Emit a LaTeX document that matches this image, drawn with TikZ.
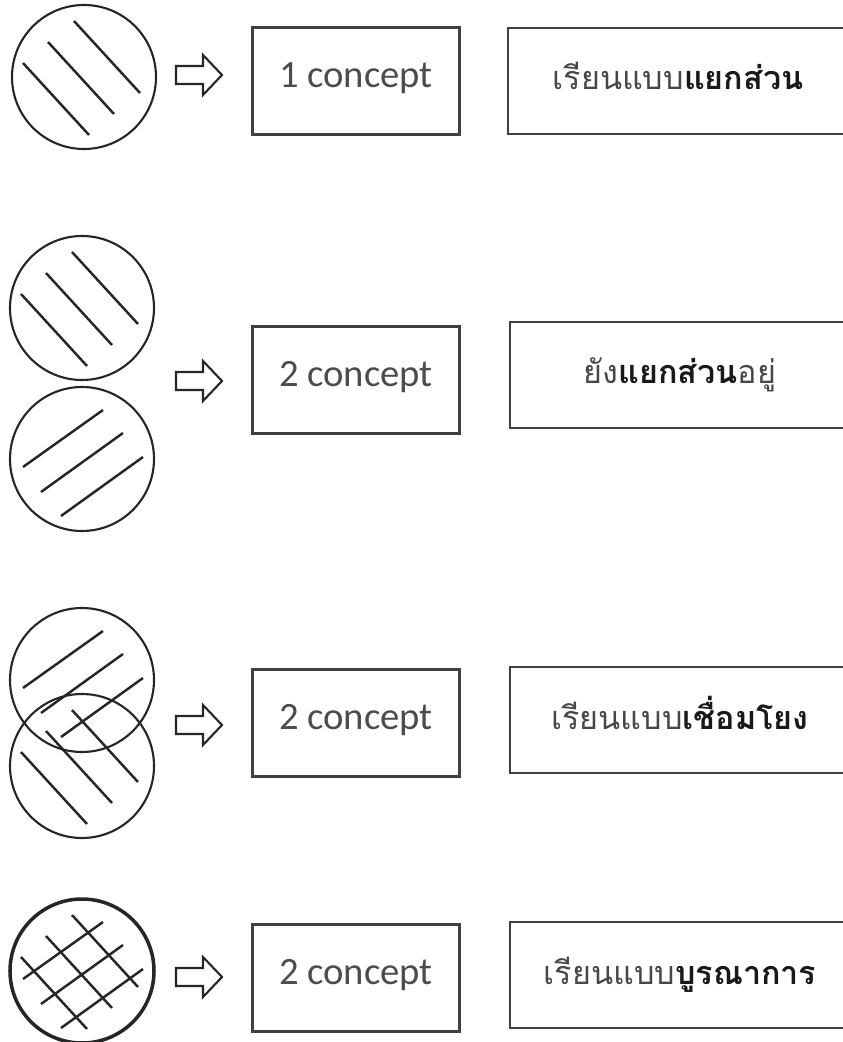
\documentclass[tikz,border=0pt]{standalone}
\usepackage{fontspec}
\setmainfont{Carlito}
\newfontfamily\thaifont[Script=Thai]{Loma}
\tikzset{ci/.style = {circle, line width=0.6pt, minimum size=14.4mm, inner sep=0pt, draw=black!85},
         hl/.style = {line width=0.7pt, black!85},
         bx/.style = {rectangle, draw=black!75, line width=0.8pt, minimum width=20.7mm, text height=6mm, text depth=4.7mm,
                      inner sep=0pt, text=black!70, font=\fontsize{11}{13}\selectfont},
         th/.style = {rectangle, draw=black!75, line width=0.8pt, minimum width=34mm, text height=6.2mm, text depth=4.4mm,
                      inner sep=0pt, text=black!72, font=\thaifont\fontsize{9.2}{11}\selectfont},
         back/.pic = {\draw[hl] (-61,-14) -- (5,58); \draw[hl] (-36,-35) -- (30,37); \draw[hl] (-10,-56) -- (56,16);},
         fwd/.pic  = {\draw[hl] (-59,8) -- (21,-49); \draw[hl] (-41,33) -- (41,-26); \draw[hl] (-21,57) -- (61,-2);},
         arr/.pic  = {\draw[line width=0.6pt, black!85] (-23,-9) -- (4,-9) -- (4,-20) -- (23,0) -- (4,20) -- (4,9) -- (-23,9) -- cycle;}}
\newcommand{\bd}[1]{{\bfseries\color{black!90}#1}}

\begin{document}
\begin{tikzpicture}[x=0.1mm, y=-0.1mm]
    \useasboundingbox (0,0) rectangle (843,1042);
    % row 1
    \node[ci] (c1) at (84,77) {};
    \pic at (c1) {back};
    \pic at (199,75) {arr};
    \node[bx] (n1) at (356,81) {1 concept};
    \node[th] (t1) at (678,81) {เรียนแบบ\bd{แยกส่วน}};
    % row 2
    \node[ci] (c2a) at (82,308) {}; \node[ci] (c2b) at (82,459) {};
    \pic at (c2a) {back}; \pic at (c2b) {fwd};
    \pic at (199,381) {arr};
    \node[bx] (n2) at (356,380) {2 concept};
    \node[th] (t2) at (680,375) {ยัง\bd{แยกส่วน}อยู่};
    % row 3
    \node[ci] (c3a) at (82,680) {}; \node[ci] (c3b) at (82,766) {};
    \pic at (c3a) {fwd}; \pic at (c3b) {back};
    \pic at (199,725) {arr};
    \node[bx] (n3) at (356,723) {2 concept};
    \node[th] (t3) at (680,720) {เรียนแบบ\bd{เชื่อมโยง}};
    % row 4
    \node[ci, line width=1pt] (c4) at (82,971) {};
    \pic at (c4) {back}; \pic at (c4) {fwd};
    \pic at (199,977) {arr};
    \node[bx] (n4) at (356,978) {2 concept};
    \node[th] (t4) at (680,975) {เรียนแบบ\bd{บูรณาการ}};
\end{tikzpicture}
\end{document}
